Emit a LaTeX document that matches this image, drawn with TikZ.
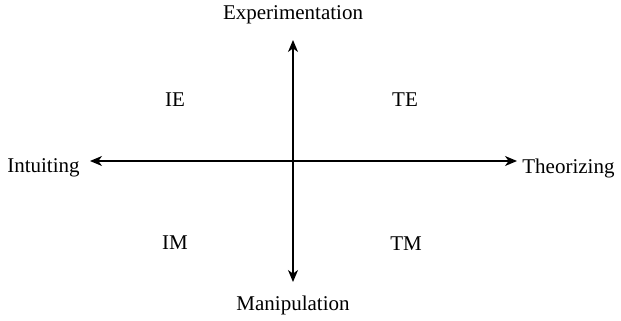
\documentclass[tikz,border=0pt]{standalone}
\usepackage{fontspec}
\setmainfont{Liberation Serif}
\usetikzlibrary{arrows.meta}
\tikzset{
  axislabel/.style={font=\fontsize{10.5}{12}\selectfont, inner sep=0pt},
  quadlabel/.style={font=\fontsize{10.5}{12}\selectfont, inner sep=0pt},
  axisline/.style={line width=0.6pt, -{Stealth[length=6pt, width=5pt, inset=1.8pt]}},
}

\begin{document}
\begin{tikzpicture}[x=0.5pt, y=-0.5pt]
    \useasboundingbox (0,0) rectangle (621,321);
    \coordinate (o) at (293,161);
    \node[axislabel] (exp) at (293,15) {Experimentation};
    \node[axislabel] (man) at (293,305) {Manipulation};
    \node[axislabel, anchor=east] (int) at (80,168) {Intuiting};
    \node[axislabel, anchor=west] (theo) at (522,168) {Theorizing};
    \node[quadlabel] (ie) at (175,100) {IE};
    \node[quadlabel] (te) at (405,100) {TE};
    \node[quadlabel] (im) at (175,243) {IM};
    \node[quadlabel] (tm) at (406,244) {TM};
    \coordinate (up) at (293,40);
    \coordinate (down) at (293,282);
    \coordinate (left) at (90,161);
    \coordinate (right) at (517,161);
    \draw[axisline] (o) -- (up);
    \draw[axisline] (o) -- (down);
    \draw[axisline] (o) -- (left);
    \draw[axisline] (o) -- (right);
  \end{tikzpicture}
\end{document}
